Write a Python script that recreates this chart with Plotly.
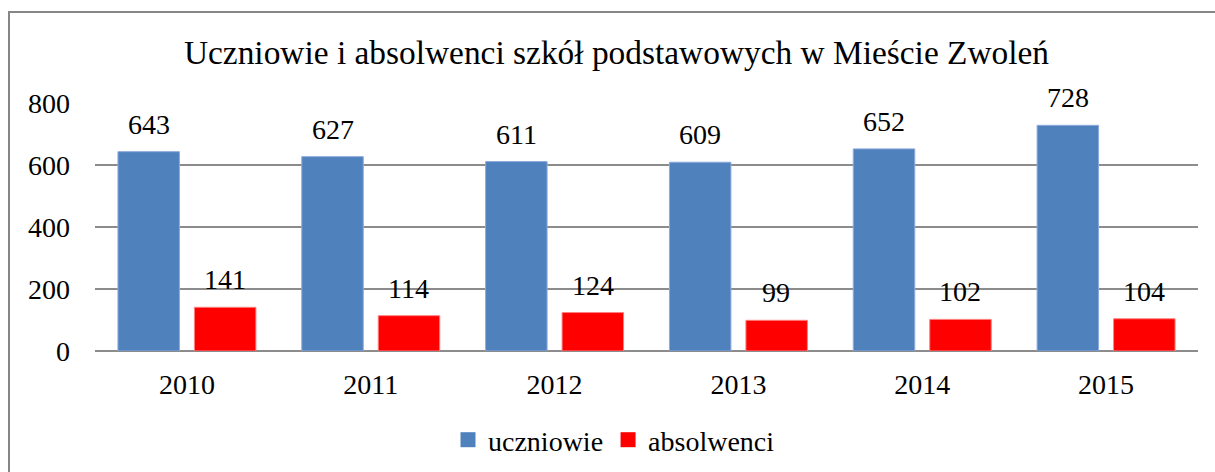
import plotly.graph_objects as go

years = ["2010", "2011", "2012", "2013", "2014", "2015"]
uczniowie = [643, 627, 611, 609, 652, 728]
absolwenci = [141, 114, 124, 99, 102, 104]
y_ticks = [0, 200, 400, 600, 800]

FONT = "Liberation Serif"
W, H = 1215, 472
L, R, T, B = 95, 17, 103, 121
BLUE, RED = "#4F81BD", "#FF0000"

fig = go.Figure()
fig.add_trace(go.Bar(
    x=years, y=uczniowie, name="uczniowie", showlegend=False,
    marker=dict(color=BLUE, line=dict(color="#8EAADB", width=1)),
))
fig.add_trace(go.Bar(
    x=years, y=absolwenci, name="absolwenci", showlegend=False,
    marker=dict(color=RED, line=dict(color="#FF8080", width=1)),
))
# legend entries with square swatches
for name, col in (("uczniowie", BLUE), ("absolwenci", RED)):
    fig.add_trace(go.Scatter(
        x=[None], y=[None], mode="markers", name=name,
        marker=dict(symbol="square", size=15, color=col),
    ))

# value labels above each bar (category axis positions are serial indices)
annotations = []
for i, yr in enumerate(years):
    for vals, dx in ((uczniowie, -38), (absolwenci, 38)):
        annotations.append(dict(
            x=i, y=vals[i], xref="x", yref="y", xshift=dx, yshift=10,
            text=str(vals[i]), showarrow=False, yanchor="bottom",
            font=dict(family=FONT, size=28, color="#000000"),
        ))

plot_w = W - L - R
plot_h = H - T - B
# chart frame (left and top edges visible)
frame = dict(
    type="rect", xref="paper", yref="paper",
    x0=(9 - L) / plot_w, x1=(W + 20 - L) / plot_w,
    y0=-(H + 20 - (H - B)) / plot_h, y1=((H - B) - 12) / plot_h,
    line=dict(color="#868686", width=2), fillcolor="rgba(0,0,0,0)",
    layer="below",
)

fig.update_layout(
    width=W, height=H,
    margin=dict(l=L, r=R, t=T, b=B, pad=0, autoexpand=False),
    paper_bgcolor="white", plot_bgcolor="white",
    barmode="group", bargap=0.168, bargroupgap=0.196,
    font=dict(family=FONT, size=28, color="#000000"),
    title=dict(
        text="Uczniowie i absolwenci szkół podstawowych w Mieście Zwoleń",
        x=616.5 / W, xanchor="center", y=1 - 52 / H, yanchor="middle",
        font=dict(family=FONT, size=33.4, color="#000000"),
    ),
    xaxis=dict(
        type="category", categoryorder="array", categoryarray=years,
        range=[-0.5, len(years) - 0.5],
        showgrid=False, showline=False, ticks="", ticklabelstandoff=14,
        tickfont=dict(family=FONT, size=28),
    ),
    yaxis=dict(
        range=[0, 800], tickvals=y_ticks, showgrid=True,
        gridcolor="#8C8C8C", gridwidth=2, zeroline=True,
        zerolinecolor="#8C8C8C", zerolinewidth=2, showline=False,
        ticks="", ticklabelstandoff=24,
        tickfont=dict(family=FONT, size=28),
    ),
    showlegend=True,
    legend=dict(
        orientation="h", x=(614 - L) / plot_w, xanchor="center",
        y=-(440 - (H - B)) / plot_h, yanchor="middle",
        font=dict(family=FONT, size=28), itemsizing="trace",
        itemwidth=30, tracegroupgap=0,
    ),
    annotations=annotations,
    shapes=[frame],
)

fig.write_html("out.html")
